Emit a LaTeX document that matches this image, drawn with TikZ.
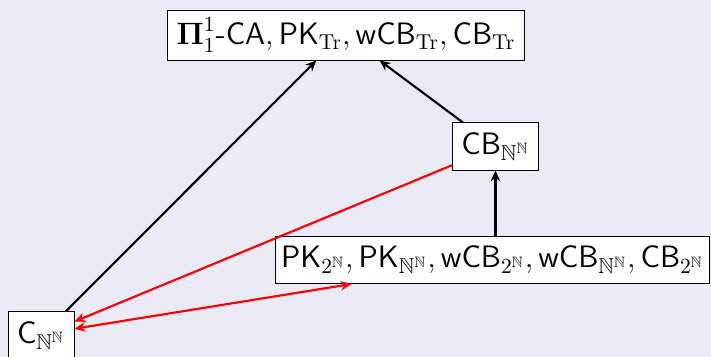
\documentclass[tikz,border=0pt]{standalone}
\usepackage{amsmath,amssymb}
\usetikzlibrary{calc,arrows.meta}
\definecolor{bg}{RGB}{234,234,245}
\begin{document}
\begin{tikzpicture}[x=0.465pt,y=-0.465pt,
  box/.style={draw=black,fill=white,line width=0.45pt,inner xsep=4.2pt,inner ysep=2pt,minimum height=21.9pt,
    font=\fontsize{14.4}{17}\selectfont\sffamily},
  tip/.style={Stealth[length=5pt,width=4.4pt]},
  blk/.style={-{Stealth[length=5pt,width=4.4pt]},line width=1pt,black},
  rd/.style={-{Stealth[length=5pt,width=4.4pt]},line width=1pt,red}]
\fill[bg] (0,0) rectangle (711,357);
\useasboundingbox (0,0) rectangle (711,357);
\node[box,minimum height=23.25pt] (top) at (346,35) {$\boldsymbol{\Pi}^1_1$-CA$,\mathsf{PK}_{\mathrm{Tr}},\mathsf{wCB}_{\mathrm{Tr}},\mathsf{CB}_{\mathrm{Tr}}$};
\node[box] (cb) at (495.5,146.5) {$\mathsf{CB}_{\mathbb{N}^{\mathbb{N}}}$};
\node[box,inner xsep=2.7pt] (pk) at (492.5,260) {$\mathsf{PK}_{2^{\mathbb{N}}},\mathsf{PK}_{\mathbb{N}^{\mathbb{N}}},\mathsf{wCB}_{2^{\mathbb{N}}},\mathsf{wCB}_{\mathbb{N}^{\mathbb{N}}},\mathsf{CB}_{2^{\mathbb{N}}}$};
\node[box] (c) at (41,335.5) {$\mathsf{C}_{\mathbb{N}^{\mathbb{N}}}$};
\draw[blk] ($(c.north west)!0.87!(c.north east)$) -- ($(top.south west)!0.417!(top.south east)$);
\draw[blk] ($(cb.north west)!0.126!(cb.north east)$) -- ($(top.south west)!0.594!(top.south east)$);
\draw[blk] (cb.south |- pk.north) -- (cb.south);
\draw[rd] ($(cb.north west)!0.89!(cb.south west)$) -- ($(c.north east)!0.21!(c.south east)$);
\draw[rd,{Stealth[length=5pt,width=4.4pt]}-{Stealth[length=5pt,width=4.4pt]}] ($(c.north east)!0.36!(c.south east)$) -- ($(pk.south west)!0.176!(pk.south east)$);
\end{tikzpicture}
\end{document}
